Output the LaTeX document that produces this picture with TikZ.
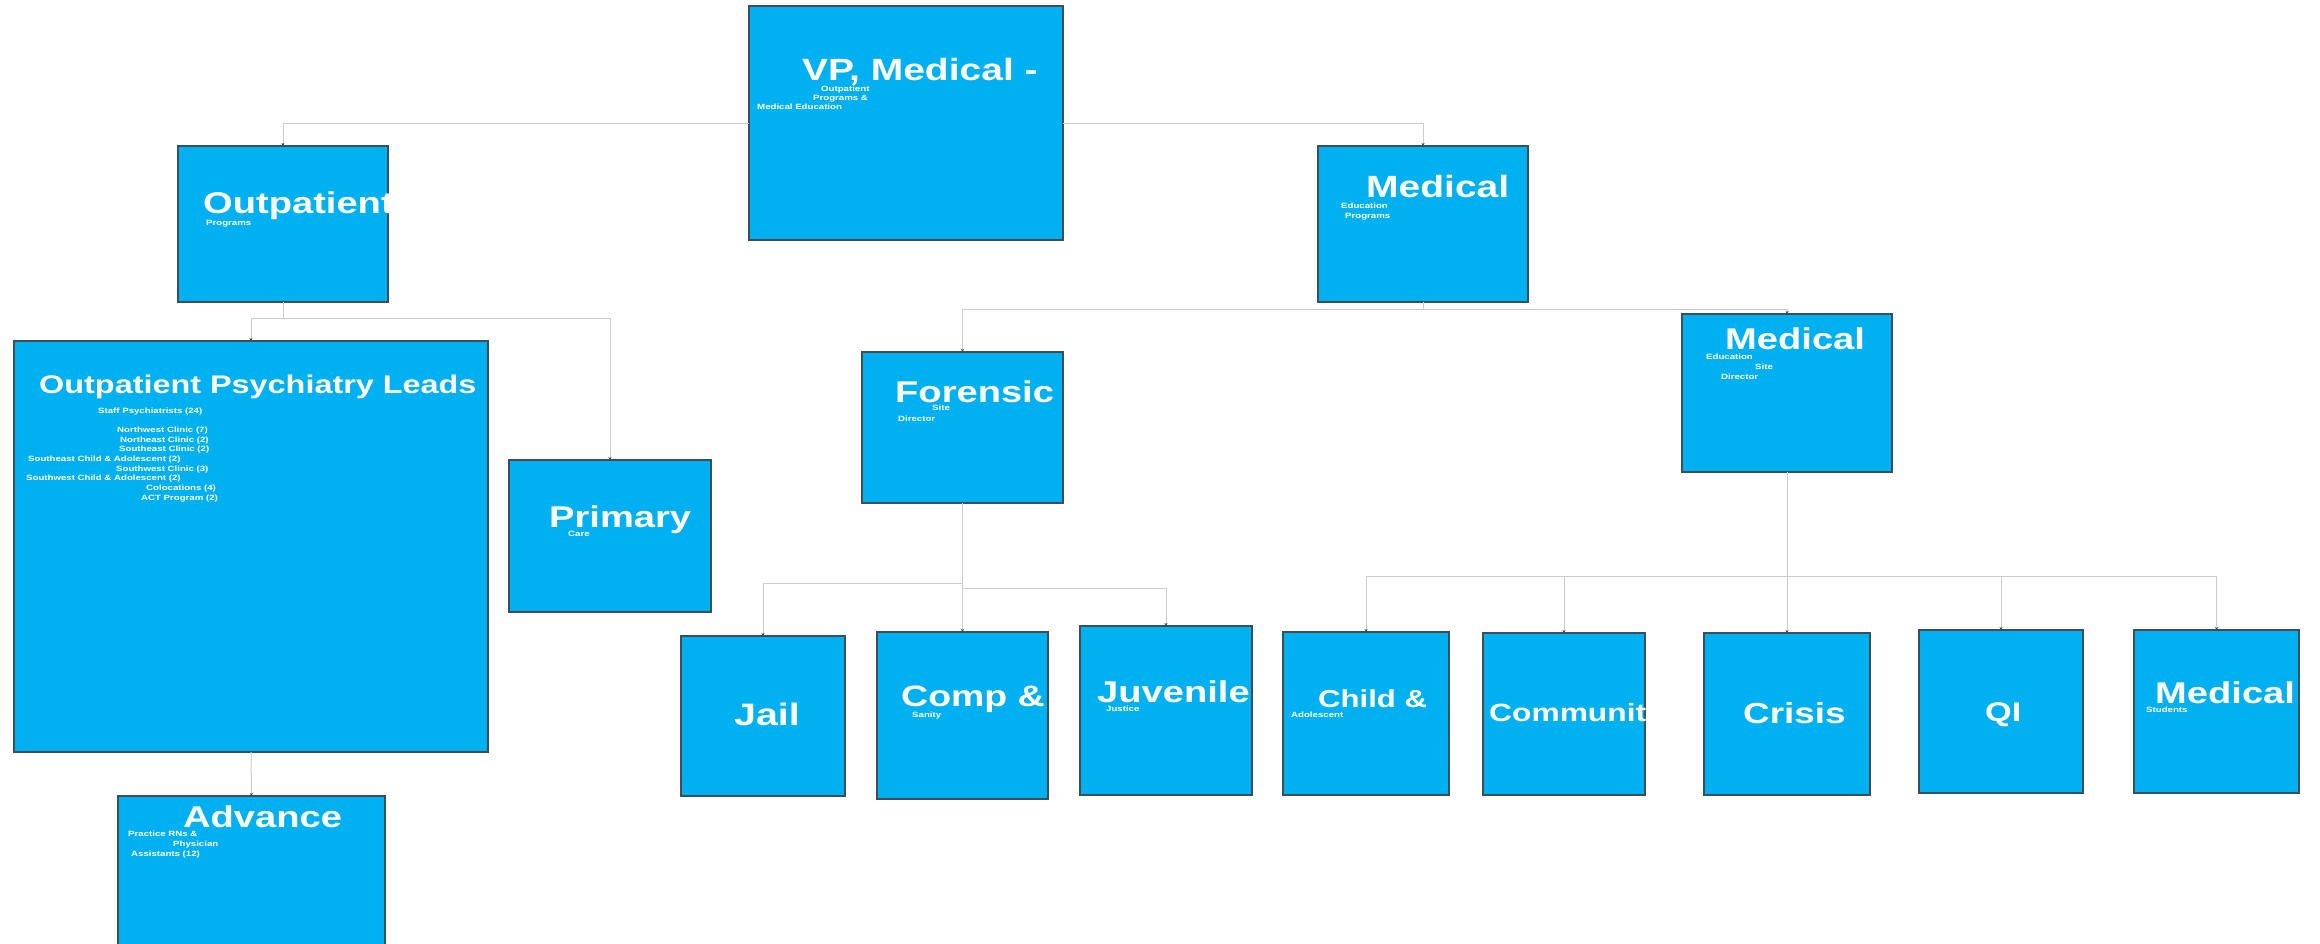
\documentclass[tikz,border=0pt]{standalone}
\usepackage{fontspec}
\newfontfamily\tf[FakeStretch=1.27]{Liberation Sans}
\usetikzlibrary{arrows.meta}
\definecolor{boxfill}{HTML}{00B0F0}
\definecolor{boxline}{HTML}{3C4E5A}
\definecolor{connc}{HTML}{CCCCCC}
\definecolor{tipc}{HTML}{444444}
\newcommand\ob[5]{\node[box, minimum width={#4-#2}, minimum height={#5-#3}] (#1) at (#2,#3) {};}
\newcommand\clipto[1]{\clip (#1.south west) rectangle (#1.north east);}
\begin{document}
\begin{tikzpicture}[x=1pt,y=-1pt,
  box/.style={draw=boxline, fill=boxfill, line width=1.3pt, inner sep=0pt, outer sep=0pt, anchor=north west},
  conn/.style={draw=connc, line width=1pt},
  arr/.style={-{Stealth[length=3pt,width=3pt,color=tipc]}},
  big/.style={text=white, anchor=base west, inner sep=0pt, font=\tf\bfseries\fontsize{#1}{#1}\selectfont},
  big/.default=30,
  small/.style={text=white, anchor=base west, inner sep=0pt, font=\tf\bfseries\fontsize{7.6}{8}\selectfont}]
\fill[white] (0,0) rectangle (2320,943);
\useasboundingbox (0,0) rectangle (2320,943);

% boxes
\ob{vp}{749}{6}{1063}{240}
\ob{op}{178}{146}{388}{302}
\ob{med}{1318}{146}{1528}{302}
\ob{opl}{14}{341}{488}{752}
\ob{pc}{509}{460}{711}{612}
\ob{fsd}{862}{352}{1063}{503}
\ob{msd}{1682}{314}{1892}{472}
\ob{adv}{118}{796}{385}{960}
\ob{jail}{681}{636}{845}{796}
\ob{comp}{877}{632}{1048}{799}
\ob{juv}{1080}{626}{1252}{795}
\ob{child}{1283}{632}{1449}{795}
\ob{comm}{1483}{633}{1645}{795}
\ob{crisis}{1704}{633}{1870}{795}
\ob{qi}{1919}{630}{2083}{793}
\ob{stud}{2134}{630}{2299}{793}

% connectors
\draw[conn,arr] (vp.west) -| (op.north);
\draw[conn,arr] (vp.east) -| (med.north);
\path (op.south) ++(0,16) coordinate (opj);
\draw[conn] (op.south) -- (opj);
\draw[conn,arr] (opj) -| (opl.north);
\draw[conn,arr] (opj) -| (pc.north);
\draw[conn,arr] (opl.south) -- (adv.north);
\path (med.south) ++(0,7) coordinate (mj);
\draw[conn] (med.south) -- (mj);
\draw[conn,arr] (mj) -| (fsd.north);
\draw[conn,arr] (mj) -| (msd.north);
\draw[conn,arr] (fsd.south) -- (comp.north);
\path (fsd.south) ++(0,80) coordinate (fj1);
\path (fsd.south) ++(0,85) coordinate (fj2);
\draw[conn,arr] (fj1) -| (jail.north);
\draw[conn,arr] (fj2) -| (juv.north);
\draw[conn,arr] (msd.south) -- (crisis.north);
\path (msd.south) ++(0,104) coordinate (mj2);
\draw[conn,arr] (mj2) -| (child.north);
\draw[conn,arr] (mj2) -| (comm.north);
\draw[conn,arr] (mj2) -| (qi.north);
\draw[conn,arr] (mj2) -| (stud.north);

% texts
\begin{scope}\clipto{vp}
\node[big=30.7] (tvp) at (802,80) {VP, Medical -};
\node[small] (tvp1) at (821,91) {Outpatient};
\node[small] (tvp2) at (813,100) {Programs \&};
\node[small] (tvp3) at (757,109) {Medical Education};
\end{scope}
\begin{scope}\clipto{op}
\node[big] (top) at (203,213) {Outpatient};
\node[small] (top1) at (206,225) {Programs};
\end{scope}
\begin{scope}\clipto{med}
\node[big=30.7] (tmed) at (1366,197) {Medical};
\node[small] (tmed1) at (1341,208) {Education};
\node[small] (tmed2) at (1345,218) {Programs};
\end{scope}
\begin{scope}\clipto{opl}
\node[big=25.5] (topl) at (39,393) {Outpatient Psychiatry Leads};
\node[small] (topl1) at (98,413) {Staff Psychiatrists (24)};
\node[small] (topl2) at (117,432) {Northwest Clinic (7)};
\node[small] (topl3) at (120,442) {Northeast Clinic (2)};
\node[small] (topl4) at (119,451) {Southeast Clinic (2)};
\node[small] (topl5) at (28,461) {Southeast Child \& Adolescent (2)};
\node[small] (topl6) at (116,471) {Southwest Clinic (3)};
\node[small] (topl7) at (26,480) {Southwest Child \& Adolescent (2)};
\node[small] (topl8) at (146,490) {Colocations (4)};
\node[small] (topl9) at (141,500) {ACT Program (2)};
\end{scope}
\begin{scope}\clipto{pc}
\node[big] (tpc) at (549,527) {Primary};
\node[small] (tpc1) at (568,536) {Care};
\end{scope}
\begin{scope}\clipto{fsd}
\node[big] (tfsd) at (895,402) {Forensic};
\node[small] (tfsd1) at (932,410) {Site};
\node[small] (tfsd2) at (898,421) {Director};
\end{scope}
\begin{scope}\clipto{msd}
\node[big] (tmsd) at (1725,349) {Medical};
\node[small] (tmsd1) at (1706,359) {Education};
\node[small] (tmsd2) at (1755,369) {Site};
\node[small] (tmsd3) at (1721,379) {Director};
\end{scope}
\begin{scope}\clipto{adv}
\node[big] (tadv) at (183,827) {Advance};
\node[small] (tadv1) at (128,836) {Practice RNs \&};
\node[small] (tadv2) at (173,846) {Physician};
\node[small] (tadv3) at (131,856) {Assistants (12)};
\end{scope}
\begin{scope}\clipto{jail}
\node[big=31] (tjail) at (734,725) {Jail};
\end{scope}
\begin{scope}\clipto{comp}
\node[big=29.5] (tcomp) at (901,706) {Comp \&};
\node[small] (tcomp1) at (912,717) {Sanity};
\end{scope}
\begin{scope}\clipto{juv}
\node[big=30] (tjuv) at (1097,702) {Juvenile};
\node[small] (tjuv1) at (1106,711) {Justice};
\end{scope}
\begin{scope}\clipto{child}
\node[big=24.5] (tchild) at (1318,707) {Child \&};
\node[small] (tchild1) at (1291,717) {Adolescent};
\end{scope}
\begin{scope}\clipto{comm}
\node[big=25] (tcomm) at (1489,721) {Community};
\end{scope}
\begin{scope}\clipto{crisis}
\node[big=29] (tcrisis) at (1743,723) {Crisis};
\end{scope}
\begin{scope}\clipto{qi}
\node[big=27] (tqi) at (1985,721) {QI};
\end{scope}
\begin{scope}\clipto{stud}
\node[big=30] (tstud) at (2155,703) {Medical};
\node[small] (tstud1) at (2146,712) {Students};
\end{scope}
\end{tikzpicture}
\end{document}
